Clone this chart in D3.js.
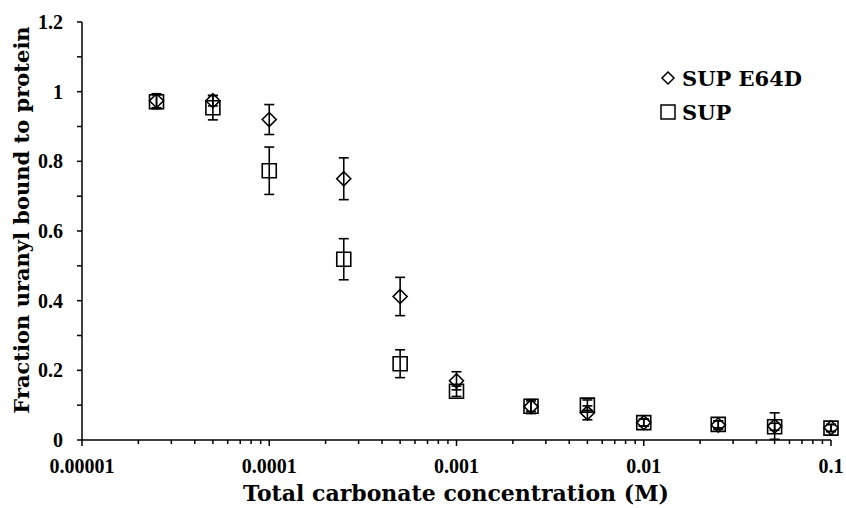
<!DOCTYPE html>
<html>
<head>
<meta charset="utf-8">
<script src="https://cdn.jsdelivr.net/npm/d3@7"></script>
<style>
  body { margin: 0; background: #fff; }
  text { font-family: "DejaVu Serif", serif; font-weight: bold; fill: #000; }
  text.tick { font-family: "Liberation Serif", serif; }
</style>
</head>
<body>
<div id="chart"></div>
<script>
//--------------------------------------------------
// data
//--------------------------------------------------
const concentrations = [0.000025, 0.00005, 0.0001, 0.00025, 0.0005, 0.001, 0.0025, 0.005, 0.01, 0.025, 0.05, 0.1];

const e64dValues = [0.974, 0.974, 0.92, 0.75, 0.412, 0.17, 0.096, 0.078, 0.05, 0.043, 0.04, 0.035];
const e64dErrors = [0.02, 0.015, 0.043, 0.06, 0.055, 0.026, 0.02, 0.02, 0.01, 0.012, 0.038, 0.01];

const supValues = [0.971, 0.954, 0.773, 0.519, 0.219, 0.14, 0.097, 0.1, 0.05, 0.045, 0.038, 0.034];
const supErrors = [0.02, 0.035, 0.068, 0.059, 0.04, 0.015, 0.015, 0.015, 0.01, 0.01, 0.01, 0.01];

const seriesNames = ["SUP E64D", "SUP"];
const xTickValues = [0.00001, 0.0001, 0.001, 0.01, 0.1];
const xTickLabels = ["0.00001", "0.0001", "0.001", "0.01", "0.1"];
const yTickValues = [0, 0.2, 0.4, 0.6, 0.8, 1, 1.2];
const yTickLabels = ["0", "0.2", "0.4", "0.6", "0.8", "1", "1.2"];

//--------------------------------------------------
// layout
//--------------------------------------------------
const width = 846, height = 508;
const margin = { left: 82, right: 15, top: 22, bottom: 68 };

const svg = d3.select("#chart").append("svg")
    .attr("width", width)
    .attr("height", height);

const x = d3.scaleLog()
    .domain([0.00001, 0.1])
    .range([margin.left, width - margin.right]);

const y = d3.scaleLinear()
    .domain([0, 1.2])
    .range([height - margin.bottom, margin.top]);

const x0 = margin.left, y0 = height - margin.bottom;

// minor ticks
let xMinor = [];
for (let d = 0.00001; d < 0.1; d *= 10) {
    for (let k = 2; k <= 9; k++) xMinor.push(d * k);
}
let yMinor = d3.range(1, 12, 2).map(i => i / 10);

const axisG = svg.append("g").attr("stroke", "#000").attr("stroke-width", 1.5);

axisG.selectAll(".xminor").data(xMinor).enter().append("line")
    .attr("x1", d => x(d)).attr("x2", d => x(d))
    .attr("y1", y0).attr("y2", y0 + 4);

axisG.selectAll(".xmajor").data(xTickValues).enter().append("line")
    .attr("x1", d => x(d)).attr("x2", d => x(d))
    .attr("y1", y0).attr("y2", y0 + 6);

axisG.selectAll(".yminor").data(yMinor).enter().append("line")
    .attr("x1", x0 - 5).attr("x2", x0)
    .attr("y1", d => y(d)).attr("y2", d => y(d));

axisG.selectAll(".ymajor").data(yTickValues).enter().append("line")
    .attr("x1", x0 - 5).attr("x2", x0)
    .attr("y1", d => y(d)).attr("y2", d => y(d));

axisG.append("line")
    .attr("x1", x0).attr("x2", x(0.1))
    .attr("y1", y0).attr("y2", y0);
axisG.append("line")
    .attr("x1", x0).attr("x2", x0)
    .attr("y1", y0).attr("y2", y(1.2));

// tick labels
svg.append("g").selectAll("text").data(xTickValues).enter().append("text")
    .attr("class", "tick")
    .attr("x", d => x(d))
    .attr("y", y0 + 33)
    .attr("text-anchor", "middle")
    .attr("font-size", 20)
    .text((d, i) => xTickLabels[i]);

svg.append("g").selectAll("text").data(yTickValues).enter().append("text")
    .attr("class", "tick")
    .attr("x", x0 - 19)
    .attr("y", d => y(d) + 7)
    .attr("text-anchor", "end")
    .attr("font-size", 20)
    .text((d, i) => yTickLabels[i]);

// axis titles
svg.append("text")
    .attr("x", 456)
    .attr("y", 501)
    .attr("text-anchor", "middle")
    .attr("font-size", 22)
    .text("Total carbonate concentration (M)");

svg.append("text")
    .attr("transform", "translate(29," + 220 + ") rotate(-90)")
    .attr("text-anchor", "middle")
    .attr("font-size", 21)
    .text("Fraction uranyl bound to protein");

//--------------------------------------------------
// series
//--------------------------------------------------
const series = [
    { name: seriesNames[0], values: e64dValues, errors: e64dErrors, shape: "diamond" },
    { name: seriesNames[1], values: supValues, errors: supErrors, shape: "square" }
];

function markerPath(shape, s) {
    if (shape === "diamond") {
        return `M0,${-s}L${s},0L0,${s}L${-s},0Z`;
    }
    return `M${-s},${-s}H${s}V${s}H${-s}Z`;
}

series.forEach(function (ser) {
    let pts = concentrations.map((c, i) => ({ c: c, v: ser.values[i], e: ser.errors[i] }));
    let g = svg.append("g").attr("stroke", "#000").attr("stroke-width", 1.6).attr("fill", "none");

    g.selectAll(".bar").data(pts).enter().append("line")
        .attr("x1", d => x(d.c)).attr("x2", d => x(d.c))
        .attr("y1", d => y(d.v - d.e)).attr("y2", d => y(d.v + d.e));
    g.selectAll(".capT").data(pts).enter().append("line")
        .attr("x1", d => x(d.c) - 5).attr("x2", d => x(d.c) + 5)
        .attr("y1", d => y(d.v + d.e)).attr("y2", d => y(d.v + d.e));
    g.selectAll(".capB").data(pts).enter().append("line")
        .attr("x1", d => x(d.c) - 5).attr("x2", d => x(d.c) + 5)
        .attr("y1", d => y(d.v - d.e)).attr("y2", d => y(d.v - d.e));

    g.selectAll(".mark").data(pts).enter().append("path")
        .attr("transform", d => `translate(${x(d.c)},${y(d.v)})`)
        .attr("d", markerPath(ser.shape, 7));
});

//--------------------------------------------------
// legend
//--------------------------------------------------
const legend = svg.append("g");
series.forEach(function (ser, i) {
    let ly = 78 + i * 34;
    legend.append("path")
        .attr("transform", `translate(668,${ly})`)
        .attr("d", markerPath(ser.shape, ser.shape === "diamond" ? 6 : 7))
        .attr("fill", "none").attr("stroke", "#000").attr("stroke-width", 1.5);
    legend.append("text")
        .attr("x", 682)
        .attr("y", ly + 8)
        .attr("font-size", 21)
        .text(ser.name);
});
</script>
</body>
</html>
